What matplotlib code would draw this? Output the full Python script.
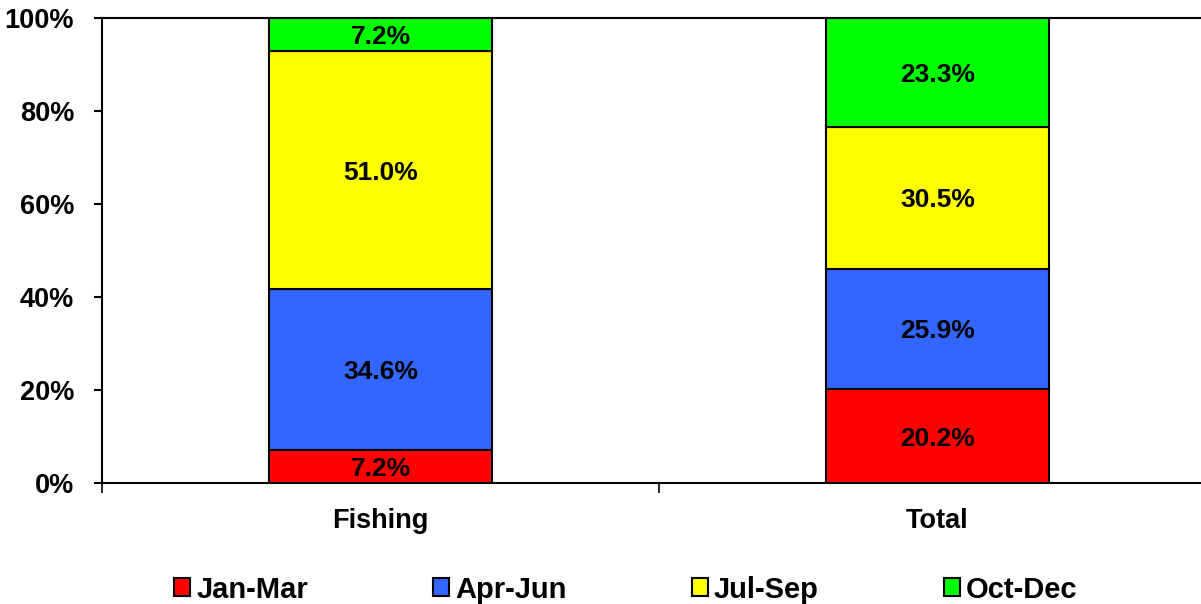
import matplotlib.pyplot as plt
import numpy as np

categories = ['Fishing', 'Total']
series_names = ['Jan-Mar', 'Apr-Jun', 'Jul-Sep', 'Oct-Dec']
jan_mar = [7.2, 20.2]
apr_jun = [34.6, 25.9]
jul_sep = [51.0, 30.5]
oct_dec = [7.2, 23.3]
colors = ['#FF0000', '#3366FF', '#FFFF00', '#00FF00']

plt.rcParams['font.family'] = ['Liberation Sans', 'DejaVu Sans']
plt.rcParams['font.weight'] = 'bold'

fig = plt.figure(figsize=(12.01, 6.04), dpi=100)
ax = fig.add_axes([102 / 1201, 1 - 483 / 604, 1114 / 1201, 465 / 604])

x = np.arange(len(categories))
bottom = np.zeros(len(categories))
for name, vals, col in zip(series_names, [jan_mar, apr_jun, jul_sep, oct_dec], colors):
    vals = np.array(vals)
    ax.bar(x, vals, 0.40, bottom=bottom, color=col, edgecolor='black',
           linewidth=1.5, label=name, zorder=3)
    for xi, b, v in zip(x, bottom, vals):
        ax.text(xi, b + v / 2, f"{v:.1f}%", ha='center', va='center_baseline',
                fontsize=19, fontweight='bold', zorder=4)
    bottom += vals

ax.set_xlim(-0.5, 1.5)
ax.set_ylim(0, 100)
ax.set_yticks(np.arange(0, 101, 20))
ax.set_yticklabels([f"{v}%" for v in range(0, 101, 20)])
ax.set_xticks(x)
ax.set_xticklabels(categories)
ax.set_xticks([-0.5, 0.5, 1.5], minor=True)
ax.tick_params(axis='x', which='major', length=0, pad=18, labelsize=19.5)
ax.tick_params(axis='x', which='minor', length=7, width=1.2, direction='out')
ax.tick_params(axis='y', which='major', length=6, width=1.5, pad=14, labelsize=19.5)

for lab in ax.get_xticklabels() + ax.get_yticklabels():
    lab.set_fontweight('bold')

for spine in ax.spines.values():
    spine.set_linewidth(1.5)

fig.legend(loc='center', bbox_to_anchor=(626 / 1201, 0.024), ncol=4,
           frameon=False, handlelength=0.55, handleheight=0.55,
           handletextpad=0.2, columnspacing=4.3, prop={'weight': 'bold', 'size': 21})

fig.savefig('out.png', dpi=100, facecolor='white')
